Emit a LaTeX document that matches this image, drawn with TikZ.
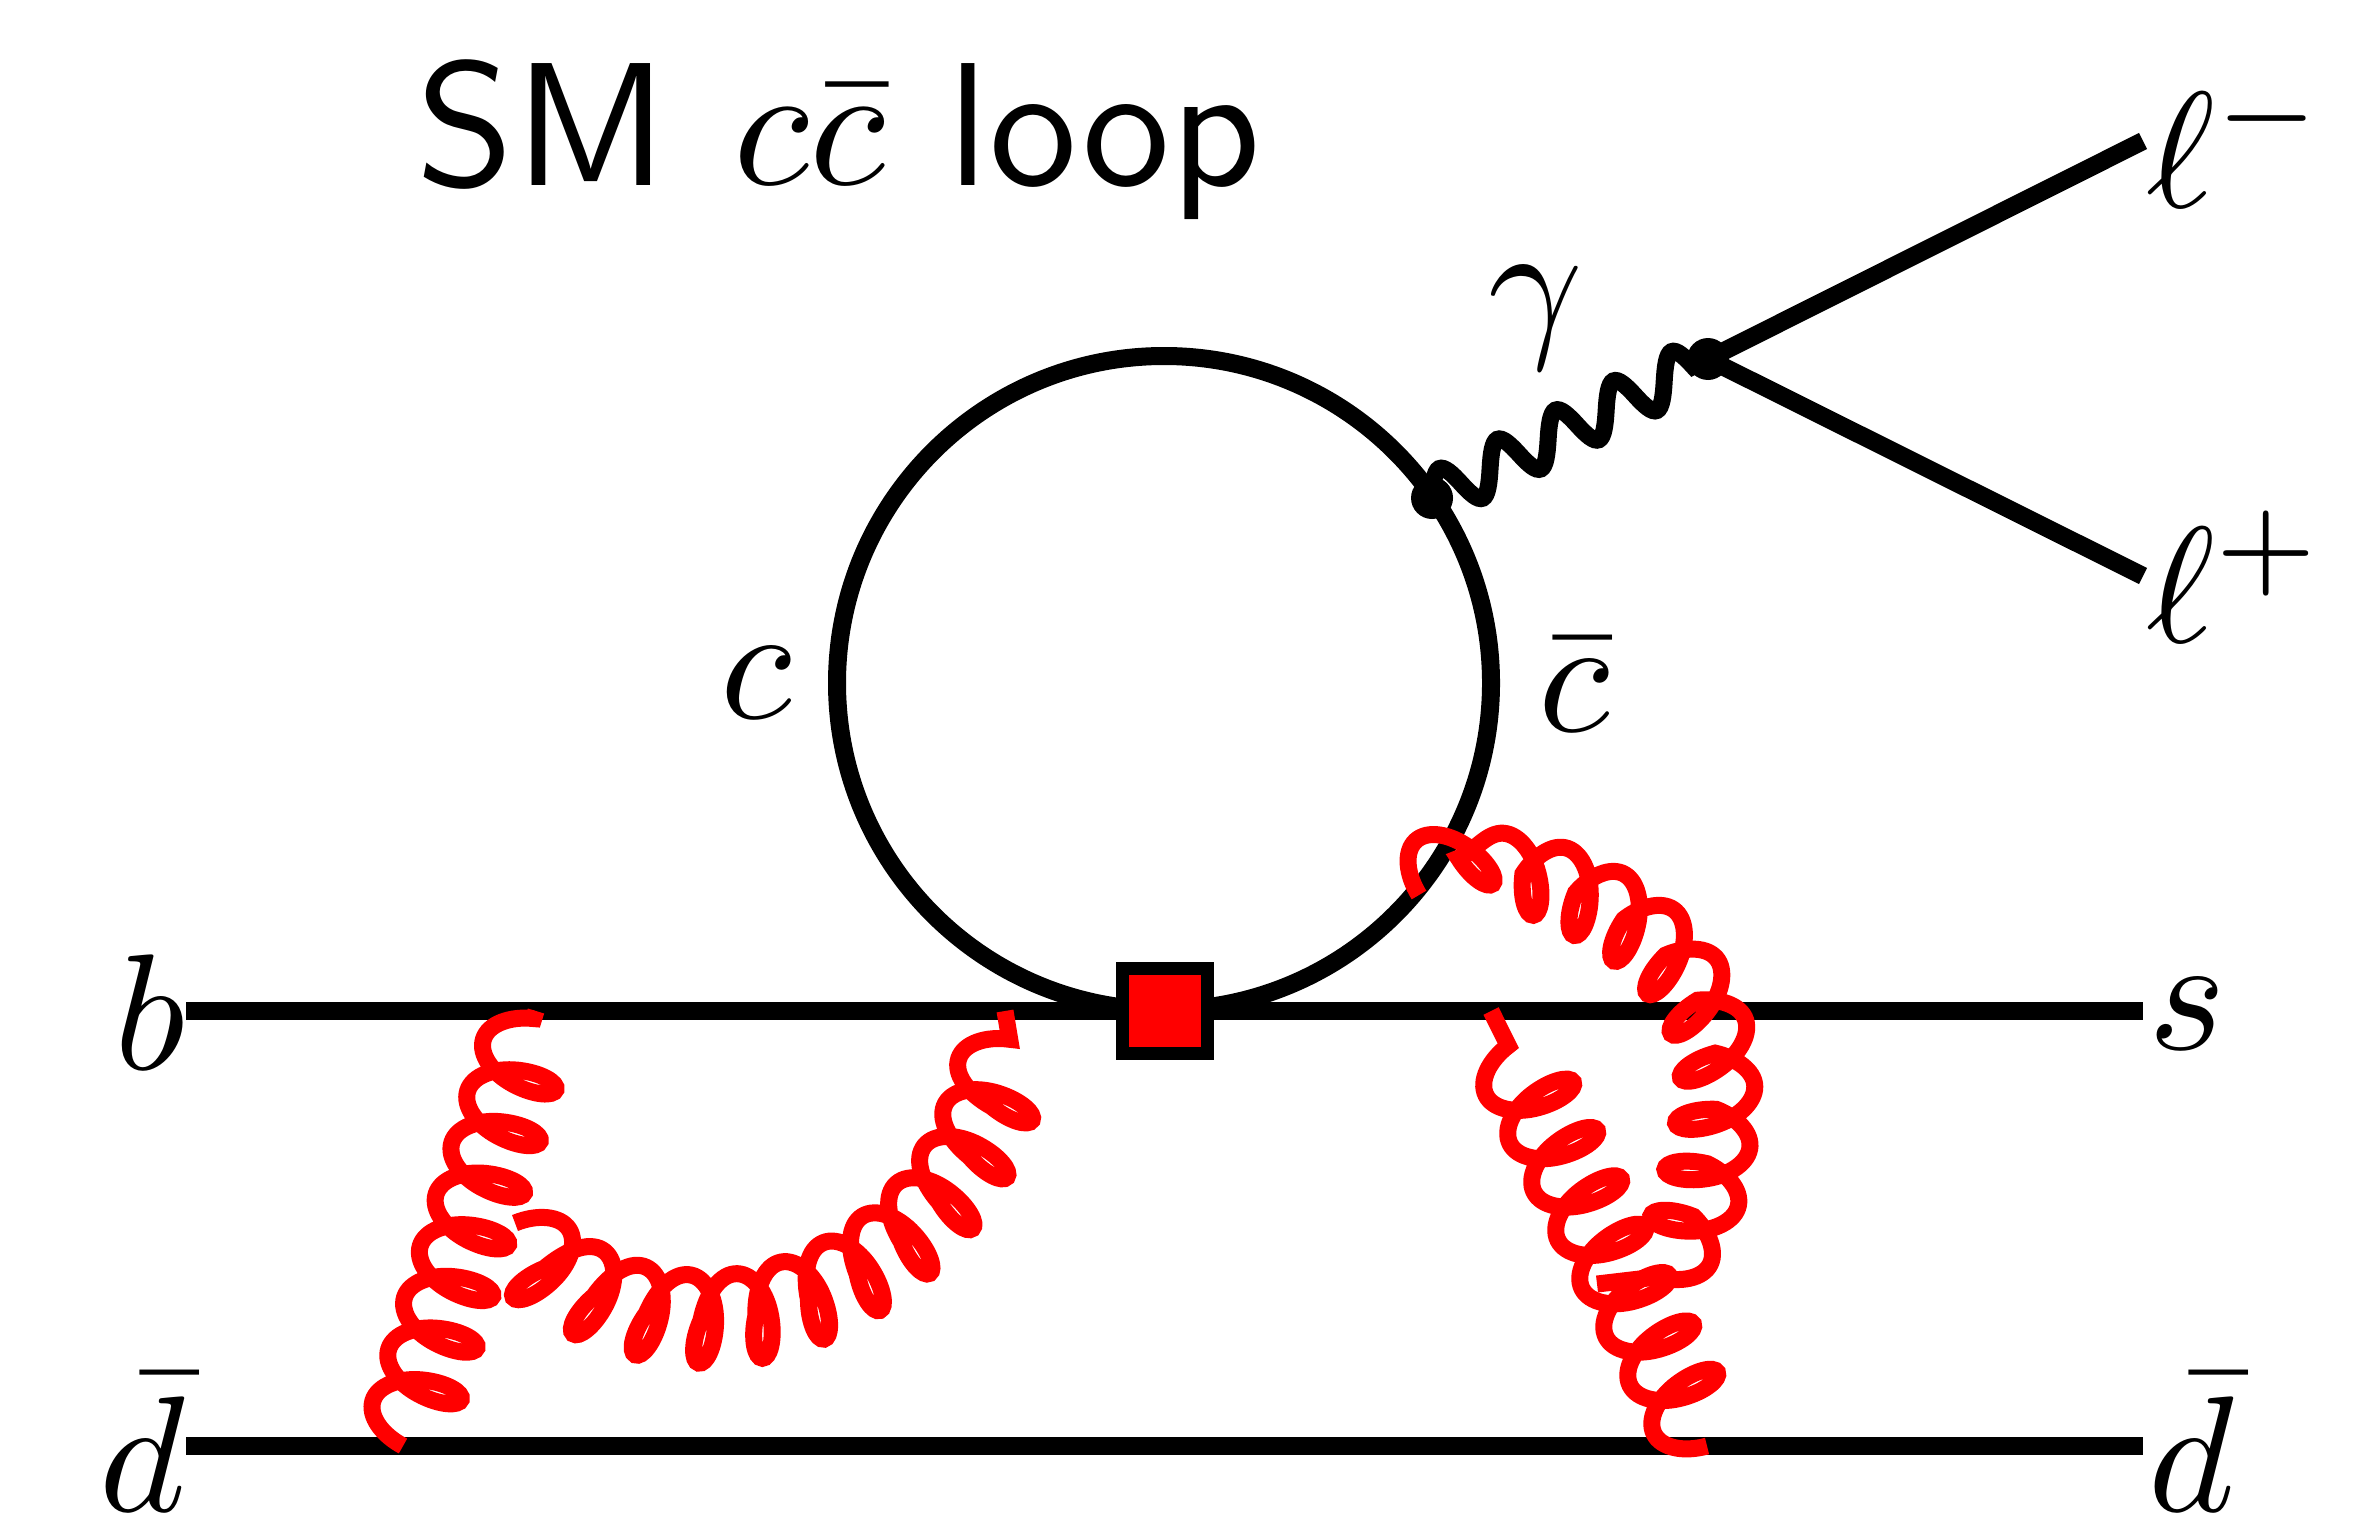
\documentclass[tikz,border=0pt]{standalone}
\usepackage{amsmath}
\usetikzlibrary{decorations.pathmorphing}

\begin{document}
\begin{tikzpicture}[
  fermion/.style={line width=0.18cm},
  photon/.style={line width=0.17cm, decorate, decoration={coil, segment length=0.65cm, amplitude=0.23cm, aspect=0, transform={xslant=0.15}}},
  gluon/.style={red, line width=0.17cm, decorate, decoration={coil, segment length=0.54cm, amplitude=0.42cm, aspect=0.5}},
  vertex/.style={circle, fill=black, inner sep=0pt, minimum size=0.42cm},
  operator/.style={draw, fill=red, line width=0.13cm, inner sep=0pt, minimum size=0.85cm},
  lbl/.style={anchor=base west, inner sep=0pt, scale=4.7}
]
\useasboundingbox (0,0) rectangle (23.71,15.17);

% external legs
\coordinate (bin) at (1.86,5.06);
\coordinate (sout) at (21.43,5.06);
\coordinate (din) at (1.86,0.71);
\coordinate (dout) at (21.43,0.71);
\coordinate (lminus) at (21.43,13.76);
\coordinate (lplus) at (21.43,9.41);
\coordinate (loopc) at (11.64,8.34);
\node[vertex] (va) at (14.32,10.19) {};
\node[vertex] (vb) at (17.08,11.58) {};

\draw[fermion] (bin) -- (sout);
\draw[fermion] (din) -- (dout);
\draw[fermion] (loopc) circle (3.27cm);
\draw[fermion] (vb.center) -- (lminus);
\draw[fermion] (vb.center) -- (lplus);
\draw[photon] (va.center) -- (vb.center);
\node[operator] (op) at (11.65,5.06) {};

% gluons
\coordinate (gla) at (4.03,0.71);
\coordinate (glb) at (5.36,5.06);
\coordinate (gma) at (5.15,2.94);
\coordinate (gmb) at (10.05,5.06);
\coordinate (gra) at (14.19,6.22);
\coordinate (grb) at (15.97,2.33);
\coordinate (gsa) at (17.07,0.71);
\coordinate (gsb) at (14.91,5.06);

\draw[gluon] (gla) -- (glb);
\draw[gluon] (gma) .. controls (5.50,2.40) and (6.27,2.02) .. (7.07,2.02) .. controls (8.31,2.02) and (9.95,3.07) .. (gmb);
\draw[gluon] (gra) .. controls (14.76,6.75) and (17.10,6.1) .. (17.10,4.31) .. controls (17.10,3.2) and (16.8,2.5) .. (grb);
\draw[gluon] (gsa) -- (gsb);

% labels
\node[lbl, scale=5/4.7] (title) at (4.13,13.32) {\sffamily SM \kern.4pt$c\bar{c}$\kern.2pt{} loop};
\node[lbl] (gamma) at (14.85,11.80) {$\gamma$};
\node[lbl] (lm) at (21.43,13.10) {$\ell^-$};
\node[lbl] (lp) at (21.43,8.75) {$\ell^+$};
\node[lbl] (cq) at (7.17,7.99) {$c$};
\node[lbl] (cbar) at (15.35,7.85) {$\bar{c}$};
\node[lbl] (bq) at (1.11,4.48) {$b$};
\node[lbl] (sq) at (21.45,4.68) {$s$};
\node[lbl] (dl) at (0.96,0.06) {$\bar{d}$};
\node[lbl] (dr) at (21.45,0.06) {$\bar{d}$};
\end{tikzpicture}
\end{document}
